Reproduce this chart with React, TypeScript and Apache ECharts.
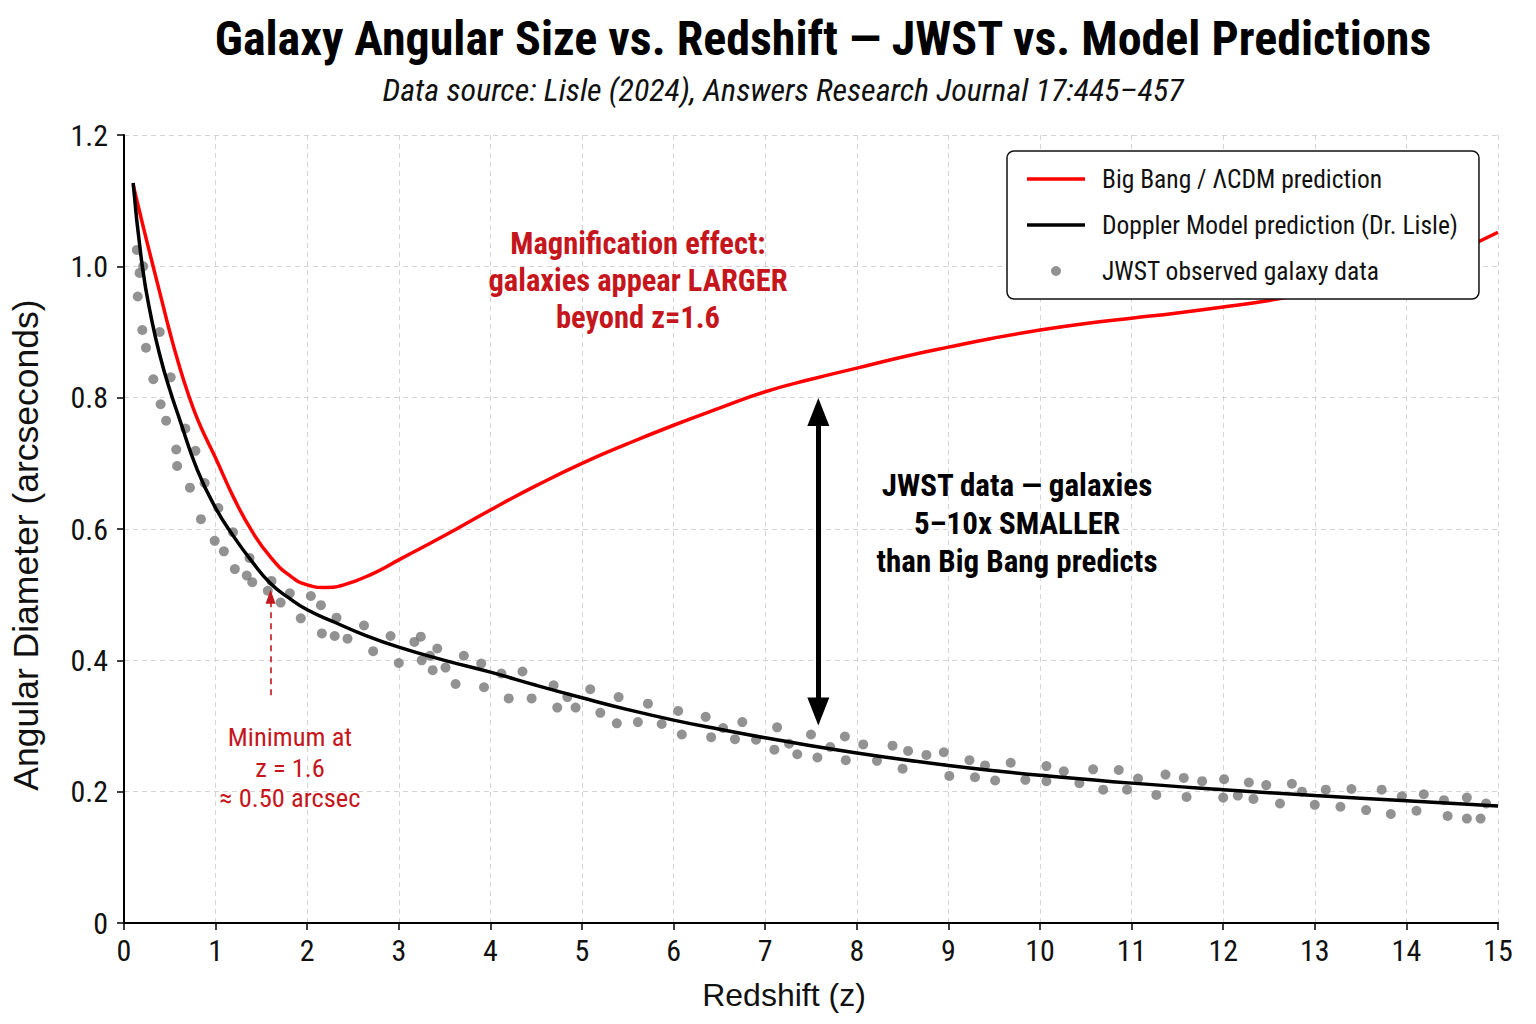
import React, { useEffect, useRef } from 'react';
import * as echarts from 'echarts';

// Big Bang / ΛCDM model curve
const bbZ = [0.1, 0.2, 0.3, 0.4, 0.5, 0.6, 0.7, 0.8, 0.9, 1.0, 1.2, 1.4, 1.6, 1.8, 2.0, 2.2, 2.4, 2.7, 3.0, 3.5, 4.0, 4.5, 5.0, 5.5, 6.0, 6.5, 7.0, 7.5, 8.0, 8.5, 9.0, 9.5, 10.0, 10.5, 11.0, 11.5, 12.0, 12.5, 13.0, 13.5, 14.0, 14.5, 15.0];
const bbAngle = [1.124, 1.066, 1.01, 0.955, 0.9, 0.85, 0.806, 0.768, 0.737, 0.708, 0.647, 0.596, 0.557, 0.53, 0.515, 0.511, 0.515, 0.531, 0.553, 0.59, 0.629, 0.666, 0.7, 0.73, 0.758, 0.784, 0.809, 0.828, 0.845, 0.862, 0.877, 0.891, 0.903, 0.913, 0.921, 0.929, 0.938, 0.948, 0.961, 0.977, 0.996, 1.02, 1.052];

// Doppler model curve
const dopZ = [0.1, 0.2, 0.3, 0.4, 0.5, 0.6, 0.8, 1.0, 1.2, 1.4, 1.6, 1.8, 2.0, 2.3, 2.6, 3.0, 3.5, 4.0, 4.5, 5.0, 5.5, 6.0, 6.5, 7.0, 7.5, 8.0, 8.5, 9.0, 9.5, 10.0, 11.0, 12.0, 13.0, 14.0, 15.0];
const dopAngle = [1.127, 1.0, 0.92, 0.86, 0.812, 0.77, 0.69, 0.632, 0.588, 0.55, 0.517, 0.495, 0.477, 0.458, 0.44, 0.42, 0.4, 0.382, 0.362, 0.343, 0.325, 0.309, 0.295, 0.282, 0.27, 0.259, 0.249, 0.24, 0.232, 0.225, 0.213, 0.203, 0.194, 0.186, 0.178];

// JWST observed galaxies
const obsZ = [0.14, 0.21, 0.17, 0.15, 0.2, 0.39, 0.24, 0.32, 0.51, 0.4, 0.46, 0.67, 0.57, 0.78, 0.58, 0.88, 0.72, 1.03, 0.84, 1.19, 0.99, 1.09, 1.37, 1.21, 1.34, 1.4, 1.61, 1.57, 1.71, 1.81, 2.04, 2.15, 1.93, 2.32, 2.16, 2.3, 2.44, 2.62, 2.72, 2.91, 3.0, 3.17, 3.24, 3.34, 3.42, 3.25, 3.37, 3.51, 3.62, 3.71, 3.9, 3.93, 4.12, 4.2, 4.35, 4.45, 4.69, 4.73, 4.84, 4.93, 5.09, 5.2, 5.38, 5.4, 5.61, 5.72, 5.87, 6.05, 6.09, 6.35, 6.41, 6.54, 6.75, 6.67, 6.9, 7.13, 7.1, 7.26, 7.35, 7.5, 7.57, 7.71, 7.87, 7.88, 8.07, 8.22, 8.39, 8.5, 8.56, 8.76, 8.95, 9.01, 9.23, 9.4, 9.29, 9.51, 9.68, 9.84, 10.07, 10.07, 10.26, 10.43, 10.58, 10.69, 10.86, 10.95, 11.07, 11.27, 11.37, 11.57, 11.6, 11.77, 12.01, 12.0, 12.16, 12.28, 12.33, 12.47, 12.62, 12.75, 12.86, 13.0, 13.12, 13.28, 13.4, 13.56, 13.73, 13.83, 13.95, 14.11, 14.19, 14.41, 14.45, 14.66, 14.66, 14.81, 14.87];
const obsAngle = [1.025, 1.0, 0.99, 0.954, 0.903, 0.9, 0.876, 0.828, 0.831, 0.79, 0.765, 0.753, 0.721, 0.719, 0.696, 0.67, 0.663, 0.632, 0.615, 0.595, 0.582, 0.566, 0.556, 0.539, 0.529, 0.519, 0.521, 0.506, 0.488, 0.502, 0.498, 0.484, 0.464, 0.465, 0.441, 0.437, 0.433, 0.453, 0.414, 0.437, 0.396, 0.428, 0.436, 0.407, 0.418, 0.4, 0.385, 0.389, 0.364, 0.407, 0.395, 0.359, 0.38, 0.342, 0.383, 0.342, 0.362, 0.328, 0.344, 0.328, 0.356, 0.32, 0.304, 0.344, 0.306, 0.334, 0.303, 0.323, 0.287, 0.314, 0.283, 0.297, 0.306, 0.28, 0.279, 0.298, 0.264, 0.273, 0.257, 0.287, 0.252, 0.268, 0.284, 0.248, 0.272, 0.247, 0.27, 0.235, 0.262, 0.256, 0.26, 0.224, 0.248, 0.24, 0.222, 0.217, 0.244, 0.218, 0.239, 0.216, 0.231, 0.213, 0.234, 0.203, 0.233, 0.203, 0.22, 0.195, 0.226, 0.221, 0.192, 0.216, 0.219, 0.191, 0.194, 0.214, 0.189, 0.21, 0.182, 0.212, 0.2, 0.18, 0.203, 0.177, 0.204, 0.172, 0.203, 0.166, 0.193, 0.171, 0.196, 0.187, 0.163, 0.191, 0.159, 0.159, 0.182];

// Annotation anchors (data space)
const minMarkerZ = 1.6;
const minArrowFrom = 0.347;
const minArrowTo = 0.497;
const gapArrowZ = 7.58;
const gapArrowLow = 0.322;
const gapArrowHigh = 0.778;

const seriesNames = ['Big Bang / ΛCDM prediction', 'Doppler Model prediction (Dr. Lisle)', 'JWST observed galaxy data'];

const NARROW = "'Roboto Condensed', 'Liberation Sans Narrow', 'Noto Sans Condensed', 'DejaVu Sans Condensed', sans-serif";
const REGULAR = "'Liberation Sans', Arial, sans-serif";
const ANNOT_RED = '#c4161c';
const LINE_ICON = 'path://M0 0H58V3.5H0Z';

export default function App() {
  const ref = useRef<HTMLDivElement>(null);
  useEffect(() => {
    document.body.style.margin = '0';
    const chart = echarts.init(ref.current!, null, { renderer: 'svg' });
    const option: any = {
      animation: false,
      backgroundColor: '#ffffff',
      title: [
        {
          text: 'Galaxy Angular Size vs. Redshift — JWST vs. Model Predictions',
          left: 818,
          top: 9,
          textAlign: 'center',
          textStyle: { fontFamily: NARROW, fontWeight: 'bold', fontSize: 48, color: '#000' },
        },
        {
          text: 'Data source: Lisle (2024), Answers Research Journal 17:445–457',
          left: 778,
          top: 69,
          textAlign: 'center',
          textStyle: { fontFamily: NARROW, fontStyle: 'italic', fontWeight: 'normal', fontSize: 32, color: '#111' },
        },
      ],
      grid: { left: 122, right: 38, top: 135, bottom: 101, containLabel: false },
      legend: {
        data: [
          { name: seriesNames[0], icon: LINE_ICON },
          { name: seriesNames[1], icon: LINE_ICON },
          { name: seriesNames[2], icon: 'circle' },
        ],
        orient: 'vertical',
        left: 1007,
        top: 151,
        itemWidth: 58,
        itemHeight: 10,
        itemGap: 20,
        padding: [15, 21, 15, 20],
        backgroundColor: '#ffffff',
        borderColor: '#111',
        borderWidth: 1.5,
        borderRadius: 7,
        textStyle: { fontFamily: NARROW, fontSize: 25.5, color: '#111', padding: [0, 0, 0, 12] },
      },
      xAxis: {
        type: 'value',
        min: 0,
        max: 15,
        interval: 1,
        name: 'Redshift (z)',
        nameLocation: 'middle',
        nameGap: 56,
        nameTextStyle: { fontFamily: REGULAR, fontSize: 32, color: '#111', padding: [0, 54, 0, 0] },
        axisLine: { lineStyle: { color: '#000', width: 2 } },
        axisTick: { show: true, length: 7, lineStyle: { color: '#000', width: 1.5 } },
        axisLabel: { fontFamily: NARROW, fontSize: 30, color: '#111', margin: 12 },
        splitLine: { show: true, lineStyle: { color: '#d4d4d4', type: [5, 4], width: 1 } },
      },
      yAxis: {
        type: 'value',
        min: 0,
        max: 1.2,
        interval: 0.2,
        name: 'Angular Diameter (arcseconds)',
        nameLocation: 'middle',
        nameGap: 80,
        nameTextStyle: { fontFamily: REGULAR, fontSize: 35.5, color: '#111', padding: [0, 32, 0, 0] },
        axisLine: { show: true, lineStyle: { color: '#000', width: 2 } },
        axisTick: { show: true, length: 7, lineStyle: { color: '#000', width: 1.5 } },
        axisLabel: {
          fontFamily: NARROW,
          fontSize: 30,
          color: '#111',
          margin: 16,
          formatter: (v: number) => (v === 0 ? '0' : v.toFixed(1)),
        },
        splitLine: { show: true, lineStyle: { color: '#d4d4d4', type: [5, 4], width: 1 } },
      },
      series: [
        {
          name: seriesNames[2],
          type: 'scatter',
          data: obsZ.map((z, i) => [z, obsAngle[i]]),
          symbol: 'circle',
          symbolSize: 10,
          itemStyle: { color: '#777777' },
          z: 2,
          silent: true,
        },
        {
          name: seriesNames[0],
          type: 'line',
          data: bbZ.map((z, i) => [z, bbAngle[i]]),
          symbol: 'none',
          smooth: 0.5,
          lineStyle: { color: '#ff0000', width: 3.5 },
          itemStyle: { color: '#ff0000' },
          z: 3,
          markLine: {
            silent: true,
            symbol: ['none', 'triangle'],
            symbolSize: [10, 14],
            label: { show: false },
            lineStyle: { color: ANNOT_RED, type: [6, 5], width: 1.6 },
            data: [[{ coord: [minMarkerZ, minArrowFrom] }, { coord: [minMarkerZ, minArrowTo] }]],
          },
        },
        {
          name: seriesNames[1],
          type: 'line',
          data: dopZ.map((z, i) => [z, dopAngle[i]]),
          symbol: 'none',
          smooth: 0.5,
          lineStyle: { color: '#000000', width: 3.5 },
          itemStyle: { color: '#000000' },
          z: 4,
          markLine: {
            silent: true,
            symbol: ['triangle', 'triangle'],
            symbolSize: [22, 28],
            label: { show: false },
            lineStyle: { color: '#000', type: 'solid', width: 5 },
            data: [[{ coord: [gapArrowZ, gapArrowLow] }, { coord: [gapArrowZ, gapArrowHigh] }]],
          },
        },
      ],
      graphic: [
        {
          type: 'text',
          x: 638,
          y: 280,
          z: 10,
          style: {
            text: 'Magnification effect:\ngalaxies appear LARGER\nbeyond z=1.6',
            fill: ANNOT_RED,
            fontFamily: NARROW,
            fontWeight: 'bold',
            fontSize: 30.5,
            lineHeight: 37,
            textAlign: 'center',
            textVerticalAlign: 'middle',
          },
        },
        {
          type: 'text',
          x: 1017,
          y: 523,
          z: 10,
          style: {
            text: 'JWST data — galaxies\n5–10x SMALLER\nthan Big Bang predicts',
            fill: '#000',
            fontFamily: NARROW,
            fontWeight: 'bold',
            fontSize: 31,
            lineHeight: 38,
            textAlign: 'center',
            textVerticalAlign: 'middle',
          },
        },
        {
          type: 'text',
          x: 290,
          y: 767,
          z: 10,
          style: {
            text: 'Minimum at\nz = 1.6\n≈ 0.50 arcsec',
            fill: ANNOT_RED,
            fontFamily: NARROW,
            fontSize: 26.5,
            lineHeight: 30.5,
            textAlign: 'center',
            textVerticalAlign: 'middle',
          },
        },
      ],
    };
    chart.setOption(option);
    return () => chart.dispose();
  }, []);
  return <div ref={ref} style={{ width: 1536, height: 1024 }} />;
}
